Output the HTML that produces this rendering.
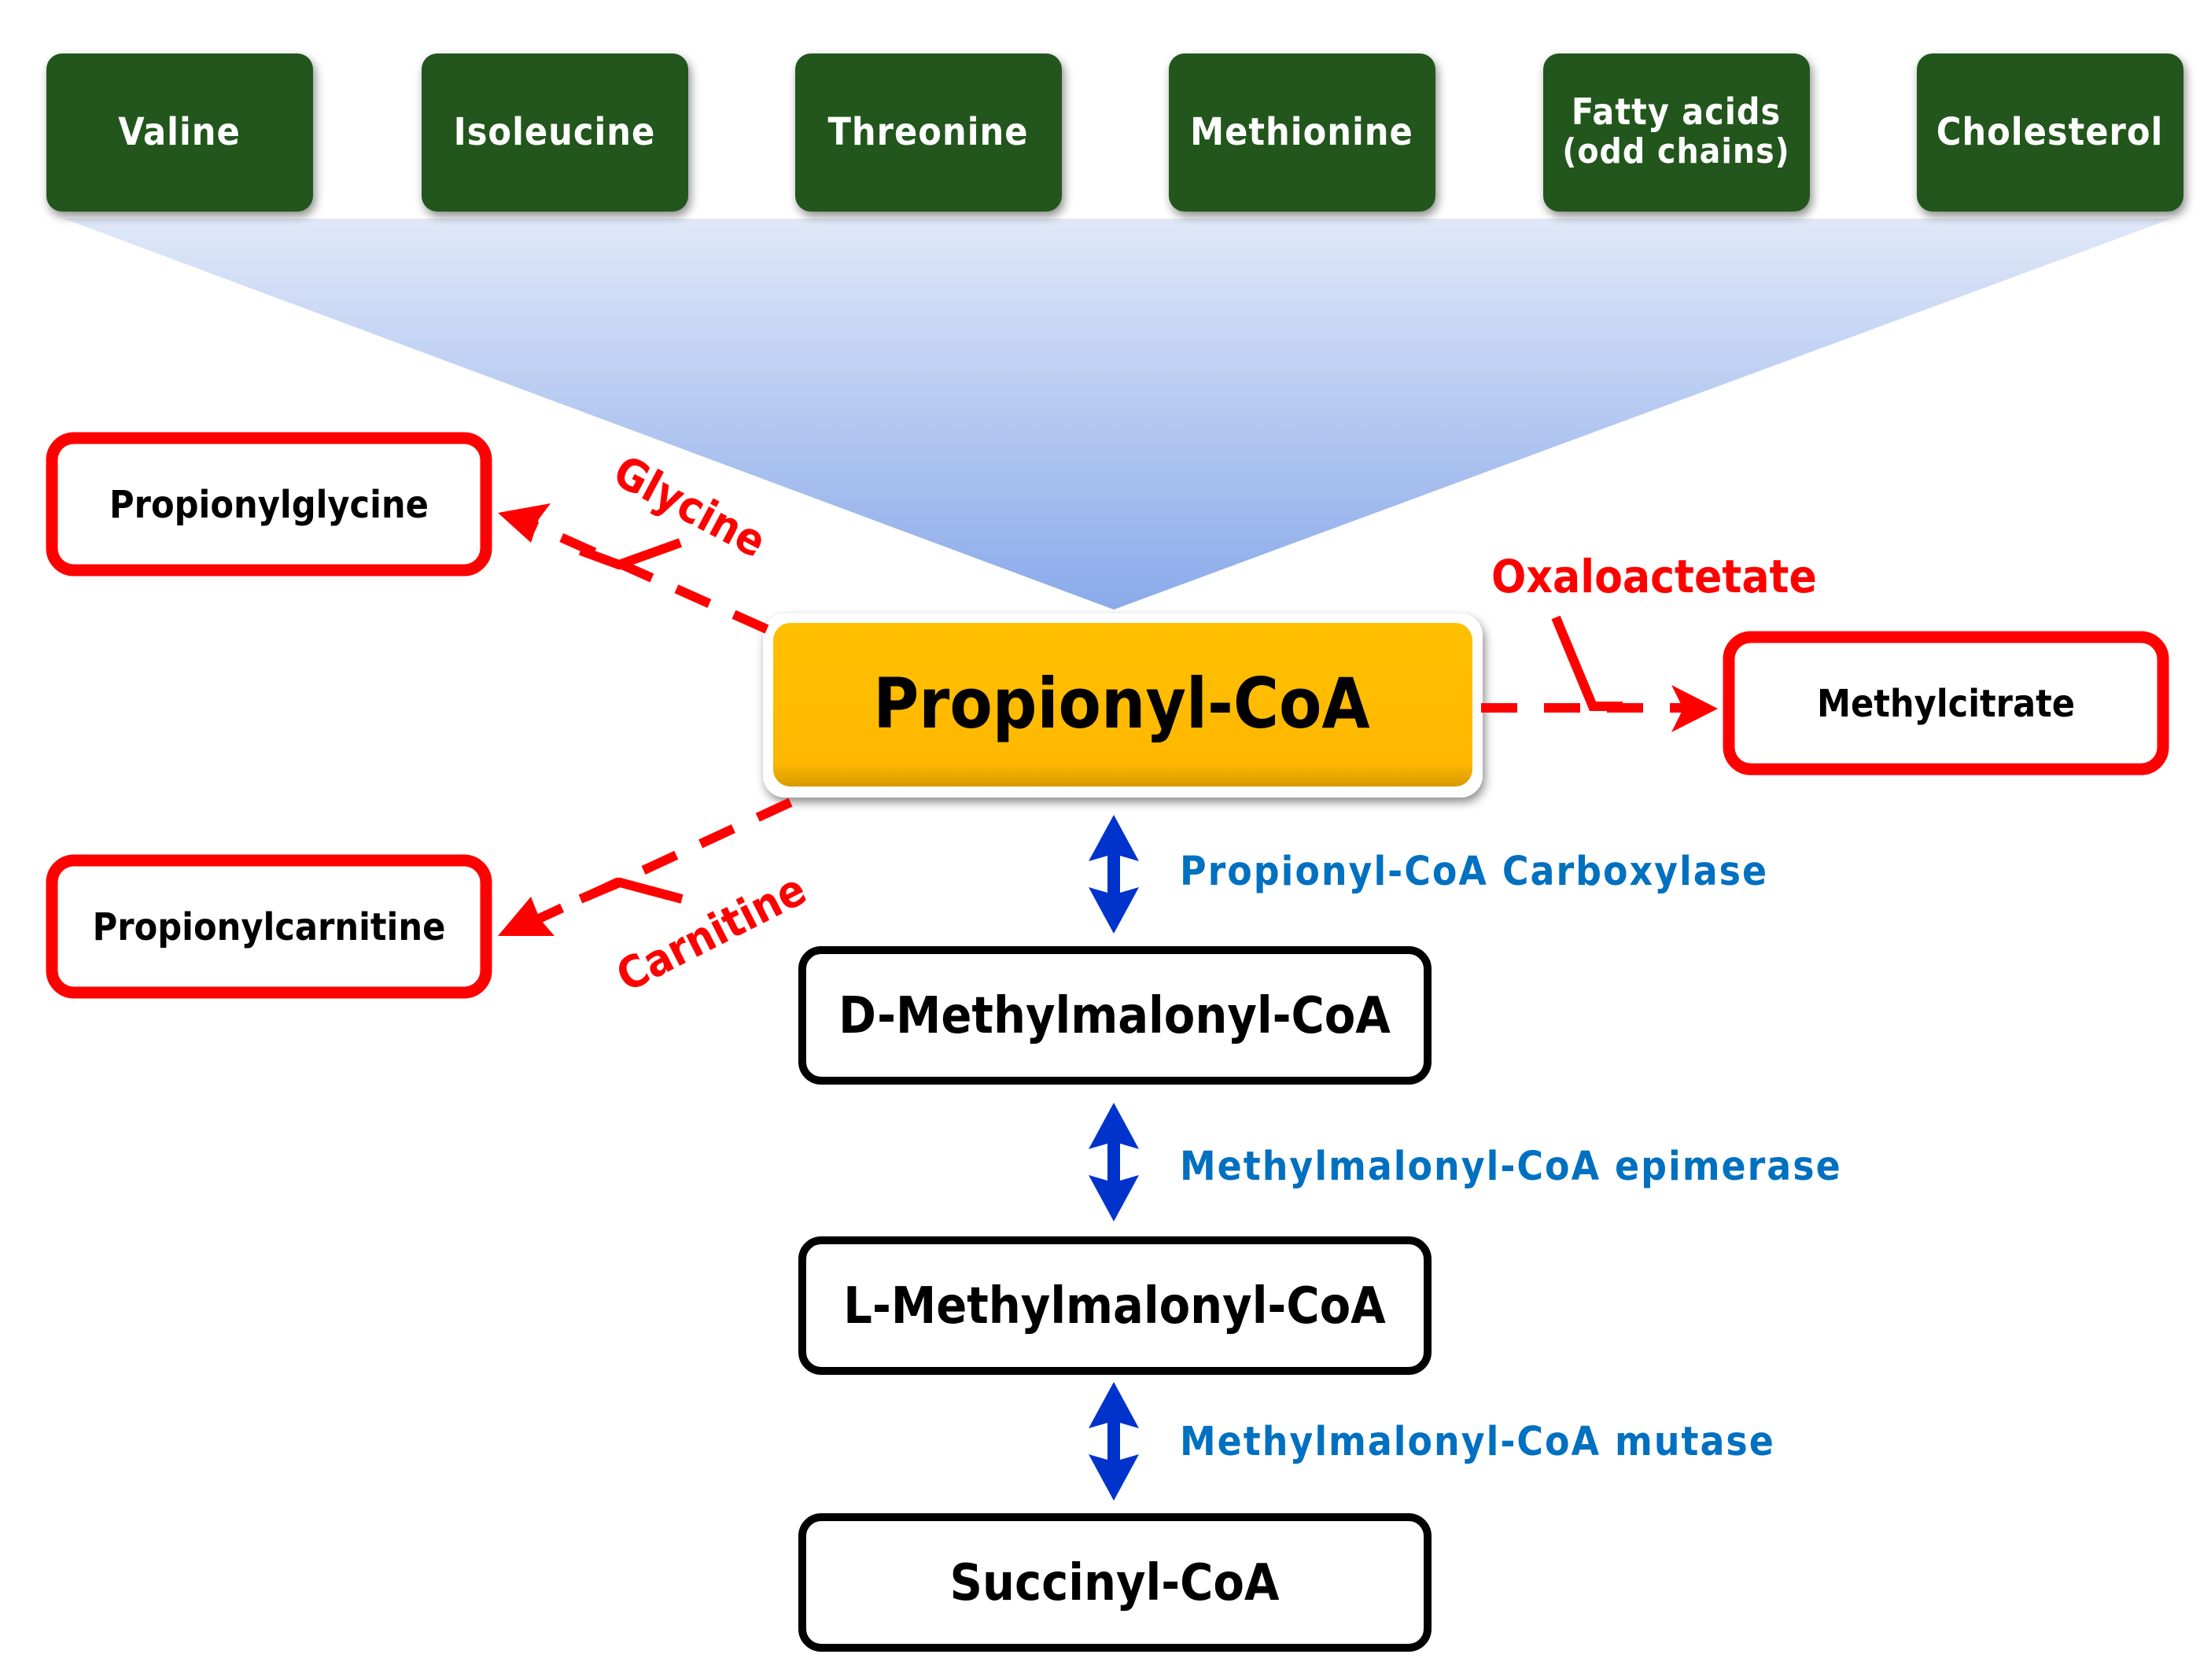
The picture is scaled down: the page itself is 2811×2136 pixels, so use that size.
<!DOCTYPE html>
<html><head><meta charset="utf-8"><style>
html,body{margin:0;padding:0;background:#fff}
svg{display:block}
text{font-family:"DejaVu Sans Condensed","DejaVu Sans",sans-serif;font-weight:bold}
</style></head><body>
<svg width="2811" height="2136" viewBox="0 0 2811 2136" xmlns="http://www.w3.org/2000/svg">
<defs>
<linearGradient id="tri" x1="0" y1="0" x2="0" y2="1">
<stop offset="0" stop-color="#e0e8f8"/><stop offset="1" stop-color="#8aaaea"/>
</linearGradient>
<linearGradient id="org" x1="0" y1="0" x2="0" y2="1">
<stop offset="0" stop-color="#ffc000"/><stop offset="0.85" stop-color="#ffb800"/><stop offset="1" stop-color="#d99a00"/>
</linearGradient>
<filter id="sh" x="-10%" y="-10%" width="120%" height="130%"><feDropShadow dx="3" dy="6" stdDeviation="6" flood-color="#000" flood-opacity="0.45"/></filter>
</defs>
<polygon points="81,278 2761,278 1416,775" fill="url(#tri)"/>
<g filter="url(#sh)" fill="#21561b">
<rect x="59" y="68" width="339" height="201" rx="20"/>
<rect x="536" y="68" width="339" height="201" rx="20"/>
<rect x="1011" y="68" width="339" height="201" rx="20"/>
<rect x="1486" y="68" width="339" height="201" rx="20"/>
<rect x="1962" y="68" width="339" height="201" rx="20"/>
<rect x="2437" y="68" width="339" height="201" rx="20"/>
</g>
<g fill="#fff" font-size="48" text-anchor="middle" letter-spacing="1">
<text x="228" y="184">Valine</text>
<text x="705" y="184">Isoleucine</text>
<text x="1180" y="184">Threonine</text>
<text x="1655" y="184">Methionine</text>
<text x="2131" y="158" font-size="46">Fatty acids</text>
<text x="2131" y="207" font-size="44">(odd chains)</text>
<text x="2606" y="184">Cholesterol</text>
</g>
<rect x="970" y="780" width="915" height="234" rx="28" fill="#fff" filter="url(#sh)"/>
<rect x="983" y="792" width="889" height="208" rx="22" fill="url(#org)"/>
<text x="1426" y="925" font-size="88" text-anchor="middle" fill="#000">Propionyl-CoA</text>
<g fill="#fff" stroke="#ff0000" stroke-width="15">
<rect x="66" y="557" width="552" height="168" rx="28"/>
<rect x="66" y="1094" width="552" height="168" rx="28"/>
<rect x="2198" y="810" width="552" height="168" rx="28"/>
</g>
<g font-size="48" text-anchor="middle" fill="#000">
<text x="342" y="658">Propionylglycine</text>
<text x="342" y="1195">Propionylcarnitine</text>
<text x="2474" y="911">Methylcitrate</text>
</g>
<g fill="#fff" stroke="#000" stroke-width="10">
<rect x="1020" y="1208" width="795" height="166" rx="24"/>
<rect x="1020" y="1577" width="795" height="166" rx="24"/>
<rect x="1020" y="1929" width="795" height="166" rx="24"/>
</g>
<g font-size="64" text-anchor="middle" fill="#000">
<text x="1417" y="1313">D-Methylmalonyl-CoA</text>
<text x="1417" y="1682">L-Methylmalonyl-CoA</text>
<text x="1417" y="2034">Succinyl-CoA</text>
</g>
<g fill="#0033cc">
<path d="M1416,1036 L1448,1095 L1424,1088 L1424,1135 L1448,1128 L1416,1187 L1384,1128 L1408,1135 L1408,1088 L1384,1095 Z"/>
<path d="M1416,1402 L1448,1461 L1424,1454 L1424,1501 L1448,1494 L1416,1553 L1384,1494 L1408,1501 L1408,1454 L1384,1461 Z"/>
<path d="M1416,1757 L1448,1816 L1424,1809 L1424,1856 L1448,1849 L1416,1908 L1384,1849 L1408,1856 L1408,1809 L1384,1816 Z"/>
</g>
<g font-size="51" fill="#0070c0" letter-spacing="2">
<text x="1500" y="1125">Propionyl-CoA Carboxylase</text>
<text x="1500" y="1500">Methylmalonyl-CoA epimerase</text>
<text x="1500" y="1850">Methylmalonyl-CoA mutase</text>
</g>
<g stroke="#ff0000" stroke-width="12" fill="none">
<line x1="975" y1="800" x2="670" y2="664" stroke-dasharray="46,34"/>
<polyline points="738,700 787,718 865,690"/>
<line x1="1005" y1="1020" x2="670" y2="1175" stroke-dasharray="46,34"/>
<polyline points="738,1143 788,1122 867,1143"/>
<line x1="1883" y1="900" x2="2150" y2="900" stroke-dasharray="46,34"/>
<polyline points="1978,785 2025,898 2063,898"/>
</g>
<g fill="#ff0000">
<path d="M633,652 L700,640 L685,660 L675,690 Z"/>
<path d="M633,1190 L675,1140 L686,1168 L705,1190 Z"/>
<path d="M2184,901 L2125,871 L2140,901 L2125,931 Z"/>
</g>
<g fill="#ff0000" font-size="56">
<text x="1896" y="753" font-size="58">Oxaloactetate</text>
<text x="0" y="0" transform="translate(776,612) rotate(28)">Glycine</text>
<text x="0" y="0" transform="translate(797,1262) rotate(-27)">Carnitine</text>
</g>
</svg>
</body></html>
